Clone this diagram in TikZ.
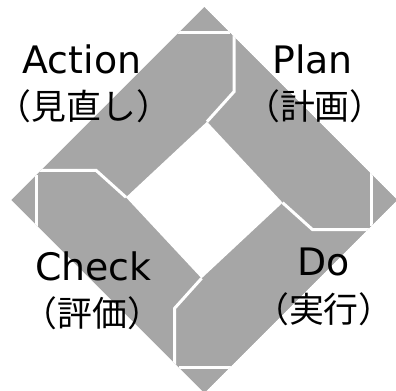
\documentclass[tikz,border=0pt]{standalone}
\usepackage{fontspec}
\setmainfont{DejaVu Sans}
\newfontfamily\jpfont{Noto Sans CJK JP}
\newfontfamily\jphalf[RawFeature=+halt]{Noto Sans CJK JP}
\definecolor{bandgray}{HTML}{A6A6A6}
\newcommand{\jpparen}[1]{{\jphalf\fontsize{35}{40}\selectfont （}#1{\jphalf\fontsize{35}{40}\selectfont ）}}
\tikzset{
  sep/.style={draw=white, line width=3bp, line cap=butt, line join=miter},
  en/.style={anchor=base, inner sep=0pt, font=\fontsize{38}{40}\selectfont},
  jp/.style={anchor=base, inner sep=0pt, font=\jpfont\fontsize{35}{40}\selectfont},
}
\begin{document}
\begin{tikzpicture}[x=1bp, y=-1bp]
\useasboundingbox (0,0) rectangle (396,391);
\begin{scope}[shift={(204.3,200)}]
  \coordinate (T) at (0,-193);
  \coordinate (R) at (193,0);
  \coordinate (B) at (0,193);
  \coordinate (L) at (-193,0);
  \coordinate (hT) at (2.7,-78.3);
  \coordinate (hR) at (78.3,2.7);
  \coordinate (hB) at (-2.7,78.3);
  \coordinate (hL) at (-78.3,-2.7);
  \begin{scope}
    \clip (T) -- (R) -- (B) -- (L) -- cycle;
    \fill[bandgray] (T) -- (R) -- (B) -- (L) -- cycle;
    \fill[white] (hT) -- (hR) -- (hB) -- (hL) -- cycle;
    % top separator
    \draw[sep] (hT) -- (29.7,-108.3) -- (29.7,-220);
    \draw[sep] (-220,-167.5) -- (25.5,-167.5);
    % right separator
    \draw[sep] (hR) -- (108.3,29.7) -- (220,29.7);
    \draw[sep] (167.5,-220) -- (167.5,25.5);
    % bottom separator
    \draw[sep] (hB) -- (-29.7,108.3) -- (-29.7,220);
    \draw[sep] (220,167.5) -- (-25.5,167.5);
    % left separator
    \draw[sep] (hL) -- (-108.3,-29.7) -- (-220,-29.7);
    \draw[sep] (-167.5,220) -- (-167.5,-25.5);
  \end{scope}
\end{scope}
\node[en] (action) at (82,73.3) {Action};
\node[jp] (actionjp) at (84,119) {\jpparen{見直し}};
\node[en] (plan) at (312.5,73.3) {Plan};
\node[jp] (planjp) at (315,119) {\jpparen{計画}};
\node[en] (check) at (93.3,280) {Check};
\node[jp] (checkjp) at (92.5,326) {\jpparen{評価}};
\node[en] (do) at (324,275) {Do};
\node[jp] (dojp) at (324,322.5) {\jpparen{実行}};
\end{tikzpicture}
\end{document}
